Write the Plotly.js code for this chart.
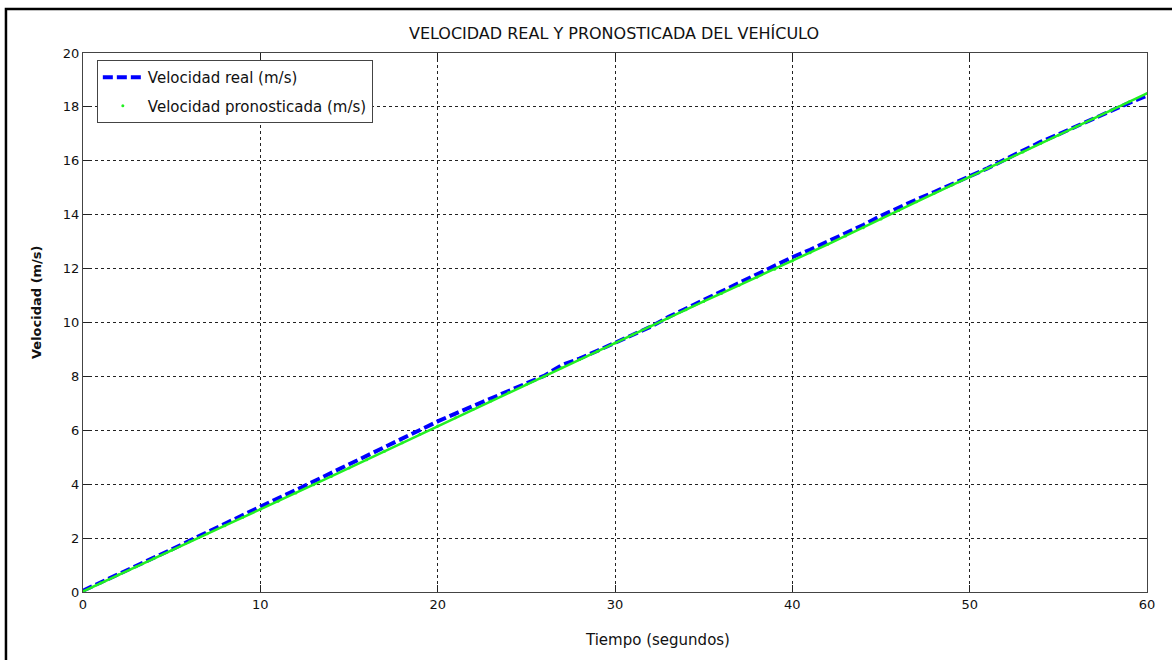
<!DOCTYPE html>
<html>
<head>
<meta charset="utf-8">
<script src="https://cdn.plot.ly/plotly-3.0.1.min.js"></script>
<style>
  html, body { margin: 0; padding: 0; background: #fff; }
  #graph1 { width: 1172px; height: 660px; }
</style>
</head>
<body>
<div id="graph1"></div>
<script>
// tiempo en segundos
let tiempo = [];
for (let i = 0; i <= 60; ++i) tiempo.push(i);

let velReal = [
	0.05, 0.35, 0.66, 0.95, 1.28, 1.58, 1.90, 2.22, 2.56, 2.88,
	3.20, 3.48, 3.78, 4.10, 4.42, 4.72, 5.05, 5.38, 5.70, 6.03,
	6.33, 6.62, 6.90, 7.20, 7.48, 7.76, 8.02, 8.42, 8.66, 8.95,
	9.24, 9.52, 9.84, 10.20, 10.52, 10.84, 11.14, 11.47, 11.80, 12.10,
	12.42, 12.70, 13.00, 13.30, 13.62, 13.96, 14.28, 14.56, 14.84, 15.12,
	15.40, 15.72, 16.05, 16.38, 16.70, 16.98, 17.26, 17.56, 17.86, 18.15,
	18.42
];

let velPronosticada = [
	0.02, 0.33, 0.64, 0.94, 1.25, 1.55, 1.86, 2.16, 2.46, 2.76,
	3.07, 3.37, 3.67, 3.98, 4.29, 4.60, 4.91, 5.22, 5.54, 5.85,
	6.16, 6.47, 6.78, 7.09, 7.40, 7.70, 8.00, 8.32, 8.63, 8.93,
	9.24, 9.55, 9.86, 10.17, 10.47, 10.78, 11.08, 11.38, 11.68, 11.98,
	12.28, 12.59, 12.90, 13.21, 13.52, 13.84, 14.16, 14.48, 14.80, 15.10,
	15.40, 15.71, 16.02, 16.33, 16.64, 16.95, 17.26, 17.57, 17.88, 18.19,
	18.50
];

let xTicks = [0, 10, 20, 30, 40, 50, 60];
let yTicks = [0, 2, 4, 6, 8, 10, 12, 14, 16, 18, 20];

let real = {
	x: tiempo,
	y: velReal,
	name: 'Velocidad real (m/s)',
	legendgroup: 'a',
	type: 'scatter',
	mode: 'lines',
	line: { color: '#0000ff', width: 4, dash: '10px,4px' },
};

// linea continua verde (sin leyenda) + puntos para la leyenda
let pronoLinea = {
	x: tiempo,
	y: velPronosticada,
	legendgroup: 'b',
	type: 'scatter',
	mode: 'lines',
	showlegend: false,
	hoverinfo: 'skip',
	line: { color: '#22f022', width: 2.5 },
};

let pronoPuntos = {
	x: tiempo,
	y: velPronosticada,
	name: 'Velocidad pronosticada (m/s)',
	legendgroup: 'b',
	type: 'scatter',
	mode: 'markers',
	marker: { color: '#22f022', size: 3 },
};

let ejeComun = {
	showgrid: true,
	gridcolor: '#222',
	griddash: 'dot',
	gridwidth: 1,
	zeroline: false,
	showline: true,
	linecolor: '#444',
	linewidth: 1,
	mirror: 'ticks',
	ticks: 'inside',
	ticklen: 7,
	tickcolor: '#222',
	tickfont: { family: 'DejaVu Sans', size: 13, color: '#111' },
};

let layout = {
	width: 1172,
	height: 660,
	margin: { l: 83, r: 25, t: 53, b: 68 },
	paper_bgcolor: '#fff',
	plot_bgcolor: '#fff',
	font: { family: 'DejaVu Sans', color: '#111' },
	title: {
		text: 'VELOCIDAD REAL Y PRONOSTICADA DEL VEHÍCULO',
		font: { family: 'DejaVu Sans', size: 16, color: '#111' },
		x: 614 / 1172, xanchor: 'center',
		y: 0.95, yanchor: 'middle',
	},
	xaxis: Object.assign({}, ejeComun, { range: [0, 60], tickvals: xTicks }),
	yaxis: Object.assign({}, ejeComun, { range: [0, 20], tickvals: yTicks }),
	annotations: [
		{
			text: 'Tiempo (segundos)',
			xref: 'paper', yref: 'paper',
			x: (657 - 83) / 1064, y: (592 - 640) / 539,
			xanchor: 'center', yanchor: 'middle',
			showarrow: false,
			font: { family: 'DejaVu Sans', size: 15, color: '#111' },
		},
		{
			text: '<b>Velocidad (m/s)</b>',
			xref: 'paper', yref: 'paper',
			x: (36 - 83) / 1064, y: (592 - 302) / 539,
			xanchor: 'center', yanchor: 'middle',
			textangle: -90,
			showarrow: false,
			font: { family: 'DejaVu Sans', size: 13, color: '#111' },
		},
	],
	legend: {
		x: 0.013, y: 0.987,
		xanchor: 'left', yanchor: 'top',
		bgcolor: '#fff',
		bordercolor: '#444',
		borderwidth: 1,
		traceorder: 'grouped',
		tracegroupgap: 6,
		itemwidth: 40,
		font: { family: 'DejaVu Sans', size: 15, color: '#111' },
	},
	shapes: [{
		type: 'rect',
		xref: 'paper', yref: 'paper',
		x0: -0.0724, x1: 1.1,
		y0: -0.3, y1: 1.0816,
		line: { color: '#000', width: 2.5 },
		fillcolor: 'rgba(0,0,0,0)',
		layer: 'below',
	}],
	showlegend: true,
};

Plotly.newPlot('graph1', [real, pronoLinea, pronoPuntos], layout, { staticPlot: true });
</script>
</body>
</html>
